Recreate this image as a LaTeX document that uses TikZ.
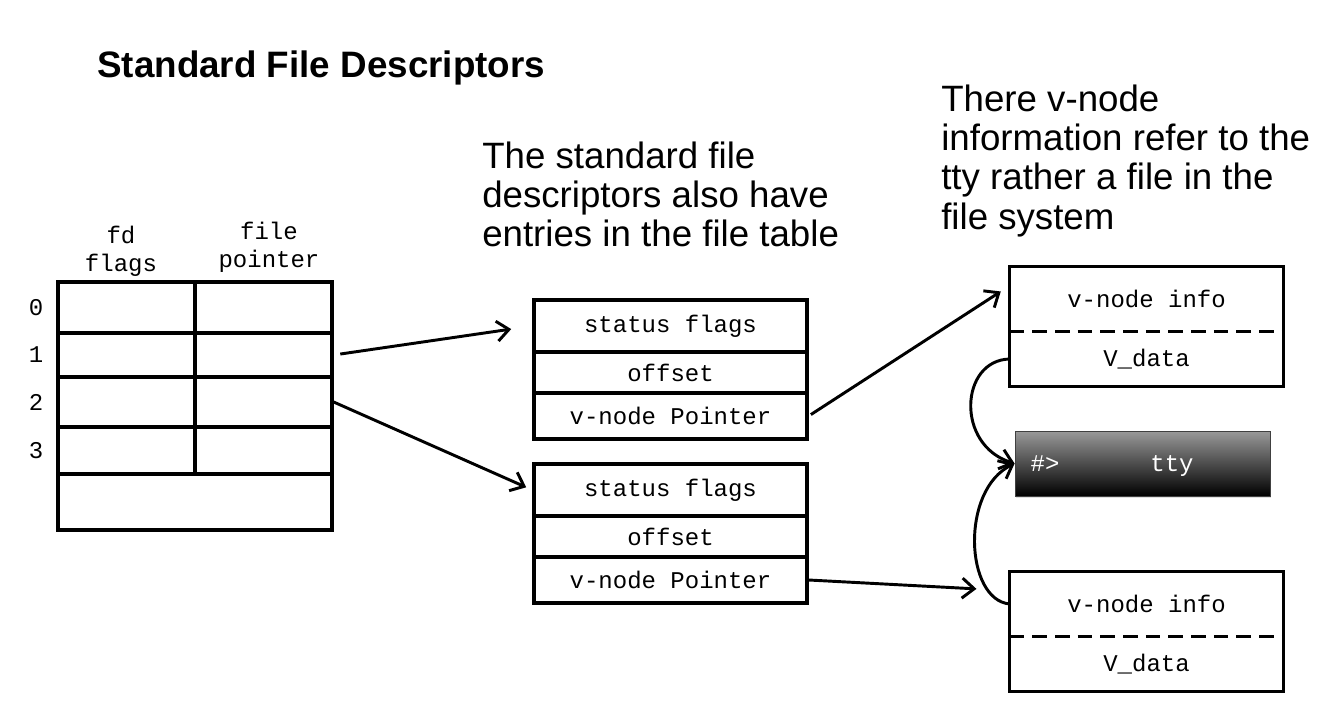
\documentclass[tikz,border=0pt]{standalone}
\usepackage{fontspec}
\setmainfont{Liberation Sans}
\setmonofont{Liberation Mono}
\usetikzlibrary{arrows.meta,shadows}

\tikzset{
    cell/.style={draw, line width=2.5pt, inner sep=0pt, font=\ttfamily\fontsize{18}{21}\selectfont},
    field/.style={inner sep=0pt, minimum width=204.75pt, font=\ttfamily\fontsize{18}{21}\selectfont},
    mono/.style={inner sep=0pt, align=center, font=\ttfamily\fontsize{18}{21}\selectfont},
    link/.style={line width=2.2pt, -{Straight Barb[length=9pt, width=15pt, line width=2.2pt]}},
    note/.style={anchor=north west, inner sep=0pt, align=left, font=\fontsize{27.5}{29.3}\selectfont},
}

\begin{document}
\begin{tikzpicture}[x=0.75pt, y=-0.75pt]
    \useasboundingbox (0,0) rectangle (1334,706);

    \node[anchor=base west, inner sep=0pt, font=\bfseries\fontsize{27.6}{30}\selectfont] (title) at (97,78) {Standard File Descriptors};

    % fd table
    \node[mono, anchor=north] (fdhead) at (121,226) {fd\\flags};
    \node[mono, anchor=north] (ptrhead) at (269,222) {file\\pointer};
    \foreach \n/\y/\h in {0/307.5/38.25pt, 1/355/33pt, 2/402/37.5pt, 3/450.5/35.25pt} {
        \node[mono] (row\n) at (36,\y) {\n};
        \node[cell, minimum width=102.75pt, minimum height=\h] (fdflag\n) at (126.5,\y) {};
        \node[cell, minimum width=102.75pt, minimum height=\h] (fdptr\n) at (263.5,\y) {};
    }
    \node[cell, minimum width=205.5pt, minimum height=42pt] (fdspare) at (195,502) {};

    % file table entries
    \foreach \t/\y in {1/300, 2/464} {
        \node[cell, minimum width=204.75pt, minimum height=39pt] (flags\t) at (670.5,\y+26) {status flags};
        \node[cell, minimum width=204.75pt, minimum height=30.75pt] (off\t) at (670.5,\y+72.5) {offset};
        \node[cell, minimum width=204.75pt, minimum height=34.5pt] (vptr\t) at (670.5,\y+116) {v-node Pointer};
    }

    % v-nodes
    \foreach \v/\y in {1/268, 2/573} {
        \node[field, minimum height=48pt] (vinfo\v) at (1146.5,\y+31) {v-node info};
        \node[field, minimum height=40.5pt] (vdata\v) at (1146.5,\y+91) {V\_data};
        \draw[line width=2.5pt] (vinfo\v.north west) rectangle (vdata\v.south east);
        \draw[line width=2.5pt, dash pattern=on 11pt off 6pt] (vinfo\v.south west) -- (vinfo\v.south east);
    }

    % terminal
    \node[draw=gray!50!black, line width=0.6pt, top color=gray!80, bottom color=black, drop shadow={opacity=0.25, shadow xshift=1pt, shadow yshift=-1.5pt}, minimum width=191.25pt, minimum height=48.75pt, inner sep=0pt] (tty) at (1142.5,463.5) {};
    \node[mono, text=white, anchor=base] (prompt) at (1045,471) {\#>};
    \node[mono, text=white, anchor=base] (ttyname) at (1172,471) {tty};

    \draw[link, shorten <=5pt, shorten >=16pt] (fdptr1.east) -- (flags1.west);
    \draw[link, shorten >=5pt] (fdptr2.east) -- (flags2.west);
    \draw[link, shorten <=2pt, shorten >=8pt] (vptr1.east) -- ([yshift=10pt]vinfo1.west);
    \draw[link, shorten >=25pt] (vptr2.east) -- ([yshift=10pt]vinfo2.west);
    \draw[link] (vdata1.west) .. controls (960,360) and (955,445) .. (tty.west);
    \draw[link] (vinfo2.west) .. controls (965,600) and (960,490) .. (tty.west);

    \node[note] (tablenote) at (482,142) {The standard file\\descriptors also have\\entries in the file table};
    \node[note] (ttynote) at (941,85) {There v-node\\information refer to the\\tty rather a file in the\\file system};
\end{tikzpicture}
\end{document}
